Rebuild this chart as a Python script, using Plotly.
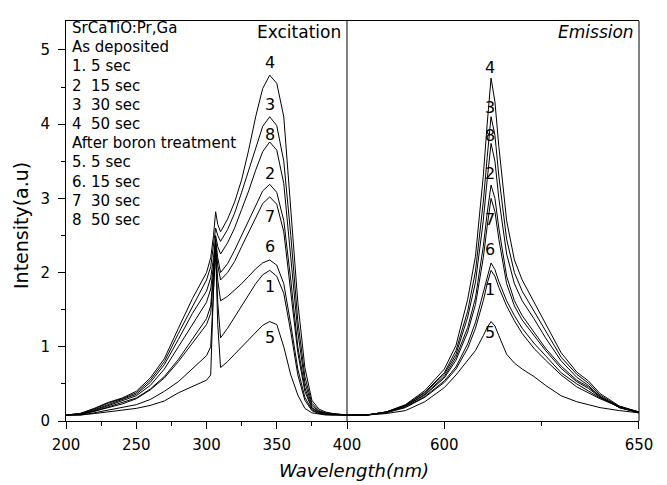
import plotly.graph_objects as go

# ---------------- data ----------------
LABELS = ["1", "2", "3", "4", "5", "6", "7", "8"]

EXC_X = [200, 210, 220, 230, 240, 250, 260, 270, 280, 290, 300, 303, 305, 306.5, 308, 310,
         315, 320, 325, 330, 335, 340, 345, 350, 355, 360, 365, 370, 375, 380, 385, 390, 400]

EXC_1 = [0.08, 0.08, 0.11, 0.15, 0.18, 0.22, 0.29, 0.40, 0.53, 0.70, 0.88, 1.00, 1.80, 2.30, 1.60, 1.12,
         1.25, 1.40, 1.55, 1.70, 1.85, 1.97, 2.03, 1.95, 1.72, 1.20, 0.62, 0.28, 0.14, 0.10, 0.09, 0.08, 0.08]
EXC_2 = [0.08, 0.09, 0.14, 0.21, 0.27, 0.34, 0.48, 0.70, 1.00, 1.30, 1.60, 1.78, 2.10, 2.45, 2.20, 2.00,
         2.12, 2.30, 2.50, 2.70, 2.90, 3.10, 3.19, 3.08, 2.70, 1.90, 1.00, 0.45, 0.18, 0.12, 0.10, 0.09, 0.08]
EXC_3 = [0.08, 0.10, 0.16, 0.24, 0.30, 0.38, 0.55, 0.80, 1.18, 1.55, 1.90, 2.08, 2.35, 2.60, 2.50, 2.42,
         2.58, 2.80, 3.08, 3.38, 3.70, 3.97, 4.10, 3.98, 3.50, 2.50, 1.35, 0.60, 0.24, 0.14, 0.11, 0.10, 0.08]
EXC_4 = [0.08, 0.10, 0.17, 0.25, 0.31, 0.40, 0.58, 0.84, 1.25, 1.65, 2.00, 2.20, 2.50, 2.82, 2.65, 2.55,
         2.72, 2.95, 3.25, 3.65, 4.10, 4.48, 4.66, 4.55, 4.10, 2.90, 1.60, 0.72, 0.28, 0.16, 0.12, 0.10, 0.08]
EXC_5 = [0.08, 0.08, 0.10, 0.12, 0.14, 0.17, 0.21, 0.27, 0.38, 0.47, 0.55, 0.62, 1.80, 2.30, 1.30, 0.72,
         0.80, 0.90, 1.00, 1.10, 1.20, 1.29, 1.34, 1.30, 1.00, 0.62, 0.35, 0.17, 0.11, 0.09, 0.08, 0.08, 0.08]
EXC_6 = [0.08, 0.09, 0.13, 0.18, 0.23, 0.30, 0.42, 0.58, 0.80, 1.05, 1.30, 1.45, 1.95, 2.35, 1.90, 1.62,
         1.68, 1.76, 1.85, 1.95, 2.05, 2.13, 2.17, 2.10, 1.85, 1.30, 0.70, 0.32, 0.15, 0.11, 0.09, 0.09, 0.08]
EXC_7 = [0.08, 0.09, 0.13, 0.19, 0.24, 0.31, 0.43, 0.60, 0.83, 1.10, 1.38, 1.55, 2.00, 2.40, 2.10, 1.90,
         2.00, 2.15, 2.35, 2.55, 2.75, 2.93, 3.02, 2.92, 2.55, 1.75, 0.92, 0.40, 0.17, 0.12, 0.10, 0.09, 0.08]
EXC_8 = [0.08, 0.10, 0.15, 0.22, 0.28, 0.36, 0.52, 0.76, 1.10, 1.45, 1.75, 1.93, 2.20, 2.50, 2.35, 2.25,
         2.40, 2.60, 2.85, 3.10, 3.38, 3.63, 3.76, 3.65, 3.20, 2.25, 1.20, 0.52, 0.21, 0.13, 0.10, 0.09, 0.08]

EM_X = [575, 580, 585, 590, 595, 600, 603, 606, 608, 610, 611, 612, 613, 614, 616, 618, 620,
        623, 626, 630, 634, 637, 640, 645, 650]

EM_1 = [0.08, 0.08, 0.11, 0.18, 0.32, 0.52, 0.70, 0.98, 1.25, 1.62, 1.85, 2.03, 1.95, 1.80, 1.55, 1.35, 1.18,
        0.98, 0.82, 0.62, 0.46, 0.38, 0.30, 0.19, 0.12]
EM_2 = [0.08, 0.08, 0.12, 0.20, 0.36, 0.60, 0.86, 1.26, 1.66, 2.35, 2.80, 3.18, 3.00, 2.60, 1.95, 1.62, 1.42,
        1.20, 0.98, 0.74, 0.55, 0.46, 0.33, 0.18, 0.11]
EM_3 = [0.08, 0.08, 0.12, 0.21, 0.39, 0.65, 0.95, 1.48, 2.02, 2.95, 3.55, 4.10, 3.85, 3.30, 2.45, 2.00, 1.75,
        1.48, 1.20, 0.86, 0.63, 0.51, 0.35, 0.19, 0.12]
EM_4 = [0.08, 0.08, 0.12, 0.22, 0.41, 0.70, 1.02, 1.64, 2.22, 3.30, 4.00, 4.62, 4.30, 3.70, 2.70, 2.17, 1.90,
        1.60, 1.30, 0.92, 0.66, 0.54, 0.37, 0.20, 0.12]
EM_5 = [0.08, 0.08, 0.10, 0.14, 0.26, 0.45, 0.62, 0.82, 0.95, 1.15, 1.26, 1.34, 1.28, 1.15, 0.90, 0.78, 0.70,
        0.60, 0.48, 0.34, 0.26, 0.22, 0.18, 0.14, 0.11]
EM_6 = [0.08, 0.08, 0.11, 0.19, 0.33, 0.54, 0.73, 1.04, 1.33, 1.72, 1.95, 2.13, 2.04, 1.88, 1.62, 1.42, 1.25,
        1.05, 0.88, 0.65, 0.50, 0.40, 0.31, 0.20, 0.12]
EM_7 = [0.08, 0.08, 0.12, 0.20, 0.35, 0.58, 0.82, 1.20, 1.57, 2.20, 2.62, 3.00, 2.82, 2.45, 1.85, 1.55, 1.36,
        1.15, 0.95, 0.71, 0.53, 0.44, 0.32, 0.18, 0.11]
EM_8 = [0.08, 0.08, 0.12, 0.21, 0.38, 0.63, 0.90, 1.40, 1.87, 2.70, 3.25, 3.74, 3.50, 3.00, 2.25, 1.85, 1.62,
        1.38, 1.12, 0.81, 0.59, 0.48, 0.33, 0.18, 0.12]

EXC_SERIES = [EXC_1, EXC_2, EXC_3, EXC_4, EXC_5, EXC_6, EXC_7, EXC_8]
EM_SERIES = [EM_1, EM_2, EM_3, EM_4, EM_5, EM_6, EM_7, EM_8]

LEGEND_LINES = ["SrCaTiO:Pr,Ga", "As deposited", "1. 5 sec", "2\u00a0 15 sec", "3\u00a0 30 sec",
                "4\u00a0 50 sec", "After boron treatment", "5. 5 sec", "6. 15 sec",
                "7\u00a0 30 sec", "8\u00a0 50 sec"]

X_TICKS_LEFT = [200, 250, 300, 350, 400]
X_MINOR_LEFT = [225, 275, 325, 375]
X_TICKS_RIGHT = [600, 650]
X_MINOR_RIGHT = [625]
Y_TICKS = [0, 1, 2, 3, 4, 5]
Y_MINOR = [0.5, 1.5, 2.5, 3.5, 4.5]

# ---------------- styles / positions ----------------
FONT = "DejaVu Sans"
EXC_LABEL_SHIFT = {"4": 13, "3": 12, "8": 7, "2": 11, "7": -20, "6": 13, "1": -16, "5": -16}
EM_LABEL_SHIFT = {"4": 11, "3": 9, "8": 8, "2": 12, "7": -21, "6": 13, "1": -19, "5": -11}
SPLIT = 0.4904
# page has an 8px body margin; the figure is sized so the plot area lands where the reference has it
W, H = 659, 477
ML, MT = 58, 13
PW, PH = 573, 400


def px(xw):   # window x pixel -> paper
    return (xw - 8 - ML) / PW


def py(yw):   # window y pixel -> paper
    return (MT + PH - (yw - 8)) / PH


fig = go.Figure()
line_style = dict(color="black", width=1)
for lab, ys in zip(LABELS, EXC_SERIES):
    fig.add_trace(go.Scatter(x=EXC_X, y=ys, mode="lines", line=line_style,
                             xaxis="x", yaxis="y", showlegend=False, name=lab))
for lab, ys in zip(LABELS, EM_SERIES):
    fig.add_trace(go.Scatter(x=EM_X, y=ys, mode="lines", line=line_style,
                             xaxis="x2", yaxis="y", showlegend=False, name=lab))

ann = []
for lab, ys in zip(LABELS, EXC_SERIES):
    i = ys.index(max(ys[16:]))
    ann.append(dict(x=EXC_X[i], y=ys[i], xref="x", yref="y", text=lab, showarrow=False,
                    yshift=EXC_LABEL_SHIFT[lab], font=dict(family=FONT, size=16, color="black")))
for lab, ys in zip(LABELS, EM_SERIES):
    i = ys.index(max(ys))
    ann.append(dict(x=EM_X[i], y=ys[i], xref="x2", yref="y", text=lab, showarrow=False,
                    yshift=EM_LABEL_SHIFT[lab], xshift=-1,
                    font=dict(family=FONT, size=16, color="black")))

for k, t in enumerate(LEGEND_LINES):
    ann.append(dict(x=px(70), y=py(28 + 19.2 * k), xref="paper", yref="paper", text=t,
                    showarrow=False, xanchor="left", yanchor="middle",
                    font=dict(family=FONT, size=15, color="black")))

ann.append(dict(x=px(343), y=py(32), xref="paper", yref="paper", text="Excitation",
                showarrow=False, xanchor="right", yanchor="middle",
                font=dict(family=FONT, size=17, color="black")))
ann.append(dict(x=px(636), y=py(32), xref="paper", yref="paper", text="<i>Emission</i>",
                showarrow=False, xanchor="right", yanchor="middle",
                font=dict(family=FONT, size=17, color="black")))
ann.append(dict(x=px(354), y=py(470), xref="paper", yref="paper",
                text="<i>Wavelength(nm)</i>", showarrow=False, xanchor="center", yanchor="middle",
                font=dict(family=FONT, size=18, color="black")))
ann.append(dict(x=px(21), y=py(226), xref="paper", yref="paper",
                text="Intensity(a.u)", showarrow=False, textangle=-90, xanchor="center", yanchor="middle",
                font=dict(family=FONT, size=19, color="black")))

axis_common = dict(showline=True, linecolor="black", linewidth=1, showgrid=False, zeroline=False,
                   ticks="outside", tickcolor="black", ticklen=7, tickwidth=1,
                   tickfont=dict(family=FONT, size=15, color="black"))

fig.update_layout(
    width=W, height=H,
    margin=dict(l=ML, r=W - ML - PW, t=MT, b=H - MT - PH),
    paper_bgcolor="white", plot_bgcolor="white",
    xaxis=dict(domain=[0, SPLIT], range=[200, 400], tickvals=X_TICKS_LEFT, mirror=True,
               minor=dict(tickvals=X_MINOR_LEFT, ticks="outside", ticklen=4, tickcolor="black"),
               ticklabelstandoff=3, anchor="y", **axis_common),
    xaxis2=dict(domain=[SPLIT, 1], range=[575, 650], tickvals=X_TICKS_RIGHT, mirror=True,
                minor=dict(tickvals=X_MINOR_RIGHT, ticks="outside", ticklen=4, tickcolor="black"),
                ticklabelstandoff=3, anchor="y", **axis_common),
    yaxis=dict(domain=[0, 1], range=[0, 5.39], tickvals=Y_TICKS, anchor="x",
               minor=dict(tickvals=Y_MINOR, ticks="outside", ticklen=4, tickcolor="black"),
               ticklabelstandoff=5, **axis_common),
    annotations=ann,
    shapes=[
        dict(type="line", xref="paper", yref="paper", x0=SPLIT, x1=SPLIT, y0=0, y1=1,
             line=dict(color="black", width=1)),
        dict(type="line", xref="paper", yref="paper", x0=1, x1=1, y0=0, y1=1,
             line=dict(color="black", width=1)),
    ],
)

fig.write_html("out.html")
